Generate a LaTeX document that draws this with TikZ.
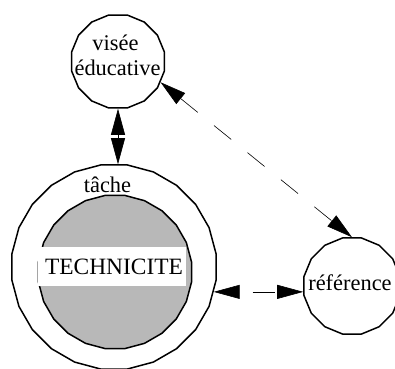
\documentclass[tikz,border=0pt]{standalone}
\usepackage{fontspec}
\setmainfont{Liberation Serif}
\usetikzlibrary{shapes.geometric,arrows.meta}
\begin{document}
\begin{tikzpicture}[x=1bp,y=-1bp,
  ring/.style={draw, line width=1.5bp, regular polygon, regular polygon sides=#1, inner sep=0pt},
  lbl/.style={font=\fontsize{22.5}{25}\selectfont, inner sep=0pt, anchor=base},
  link/.style={line width=0.6bp, {Triangle[length=26bp,width=14bp]}-{Triangle[length=26bp,width=14bp]}},
  dashlink/.style={link, dash pattern=on 22bp off 21bp},
  shortdash/.style={link, dash pattern=on 22bp off 13bp, dash phase=22bp}]
\useasboundingbox (0,0) rectangle (395,369);
\begin{scope}
\clip (0,0) rectangle (395,369);
\node[ring=16, minimum size=94.8bp] (vis) at (118,61.5) {};
\node[ring=24, minimum size=205.8bp] (tache) at (114,267) {};
\node[ring=24, minimum size=154.4bp, fill=black!28] (core) at (115,272) {};
\node[fill=white, minimum width=148bp, minimum height=39bp, inner sep=0pt] (band) at (112,266.5) {};
\node[font=\fontsize{23.5}{25}\selectfont, inner sep=0pt] (tech) at (114,267) {TECHNICITE};
\node[lbl] (tachetxt) at (107.5,192) {tâche};
\node[lbl] (vis1) at (115.5,50) {visée};
\node[lbl] (vis2) at (117.5,75) {éducative};
\node[ring=16, minimum size=97.9bp] (ref) at (352,286) {};
\node[lbl] (reftxt) at (350,290) {référence};
\draw[link] (vis.south) -- (vis.south |- tache.north);
\draw[dashlink] (vis.-26) -- (ref.north);
\draw[shortdash] (tache.-14) -- (tache.-14 -| ref.west);
\end{scope}
\end{tikzpicture}
\end{document}
